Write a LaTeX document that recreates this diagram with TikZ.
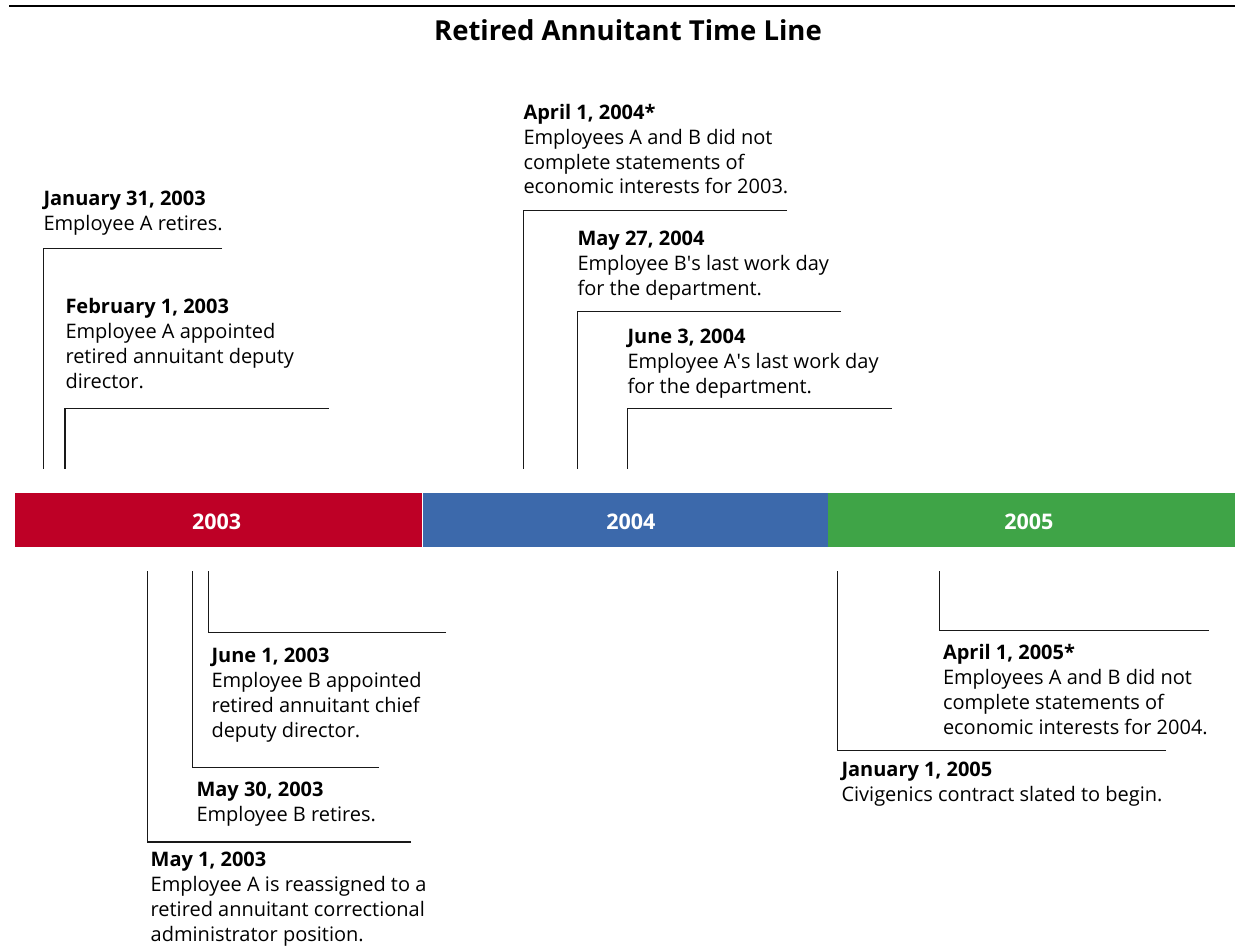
\documentclass[tikz,border=0pt]{standalone}
\usepackage{fontspec}
\setmainfont{Open Sans}
\definecolor{barred}{RGB}{190,0,38}
\definecolor{barblue}{RGB}{60,105,171}
\definecolor{bargreen}{RGB}{63,164,71}
\definecolor{linec}{RGB}{25,25,25}
\newcommand\evtext[2]{\parbox[t]{420pt}{\textbf{#1}\\#2}}
\newcommand\apos{\textquotesingle}
\begin{document}
\begin{tikzpicture}[x=1pt,y=-1pt,
  evt/.style={anchor=base west,inner sep=0pt,outer sep=0pt,font=\fontsize{20}{24.9}\selectfont},
  conn/.style={draw=linec,line width=1.4pt},
  bar/.style={inner sep=0pt,outer sep=0pt,minimum height=54pt},
  yearlbl/.style={anchor=base,inner sep=0pt,text=white,font=\fontsize{21.5}{24}\selectfont\bfseries},
  titlest/.style={anchor=base,inner sep=0pt,font=\fontsize{27.5}{30}\selectfont\bfseries}]
\useasboundingbox (0,0) rectangle (1235,949);
% top rule
\coordinate (ruleL) at (9,6);
\coordinate (ruleR) at (1235,6);
\draw[line width=2.6pt,black] (ruleL) -- (ruleR);
\node[titlest] (title) at (628,41) {Retired Annuitant Time Line};
% bar
\node[bar,fill=barred,minimum width=407pt] (b2003) at (218.5,520) {};
\node[bar,fill=barblue,minimum width=405pt] (b2004) at (625.5,520) {};
\node[bar,fill=bargreen,minimum width=407pt] (b2005) at (1031.5,520) {};
\node[yearlbl] (l2003) at (216.7,529.3) {2003};
\node[yearlbl] (l2004) at (630.8,529.3) {2004};
\node[yearlbl] (l2005) at (1028.8,529.3) {2005};
% events above
\node[evt] (jan31) at (43.5,206) {\evtext{January 31, 2003}{Employee A retires.}};
\node[evt] (feb1) at (65.5,314) {\evtext{February 1, 2003}{Employee A appointed\\retired annuitant deputy\\director.}};
\node[evt] (apr04) at (523.5,119.3) {\evtext{April 1, 2004*}{Employees A and B did not\\complete statements of\\economic interests for 2003.}};
\node[evt] (may27) at (577.5,245.7) {\evtext{May 27, 2004}{Employee B\apos s last work day\\for the department.}};
\node[evt] (jun3) at (627.5,343.3) {\evtext{June 3, 2004}{Employee A\apos s last work day\\for the department.}};
% events below
\node[evt] (jun1) at (211.5,662.7) {\evtext{June 1, 2003}{Employee B appointed\\retired annuitant chief\\deputy director.}};
\node[evt] (may30) at (196.5,796.7) {\evtext{May 30, 2003}{Employee B retires.}};
\node[evt] (may1) at (150.7,866.7) {\evtext{May 1, 2003}{Employee A is reassigned to a\\retired annuitant correctional\\administrator position.}};
\node[evt] (apr05) at (943,659.5) {\evtext{April 1, 2005*}{Employees A and B did not\\complete statements of\\economic interests for 2004.}};
\node[evt] (jan05) at (841.5,776.7) {\evtext{January 1, 2005}{Civigenics contract slated to begin.}};
% connector end points
\coordinate (jan31e) at (222,248.3);  \coordinate (jan31b) at (43.3,469);
\coordinate (feb1e) at (328.5,408.3); \coordinate (feb1b) at (64.8,469);
\coordinate (apr04e) at (787,210.7);  \coordinate (apr04b) at (523.3,469);
\coordinate (may27e) at (841,311.7);  \coordinate (may27b) at (577.3,469);
\coordinate (jun3e) at (891.5,408.3); \coordinate (jun3b) at (627.3,469);
\coordinate (jun1e) at (446,632.3);   \coordinate (jun1b) at (208.7,571);
\coordinate (may30e) at (379,767.7);  \coordinate (may30b) at (192.7,571);
\coordinate (may1e) at (411,842);     \coordinate (may1b) at (147.2,571);
\coordinate (apr05e) at (1209,630.7); \coordinate (apr05b) at (939.3,571);
\coordinate (jan05e) at (1166,750.7); \coordinate (jan05b) at (837.7,571);
\foreach \e in {jan31,feb1,apr04,may27,jun3,jun1,may30,may1,apr05,jan05}
  \draw[conn] (\e e) -| (\e b);
\end{tikzpicture}
\end{document}
